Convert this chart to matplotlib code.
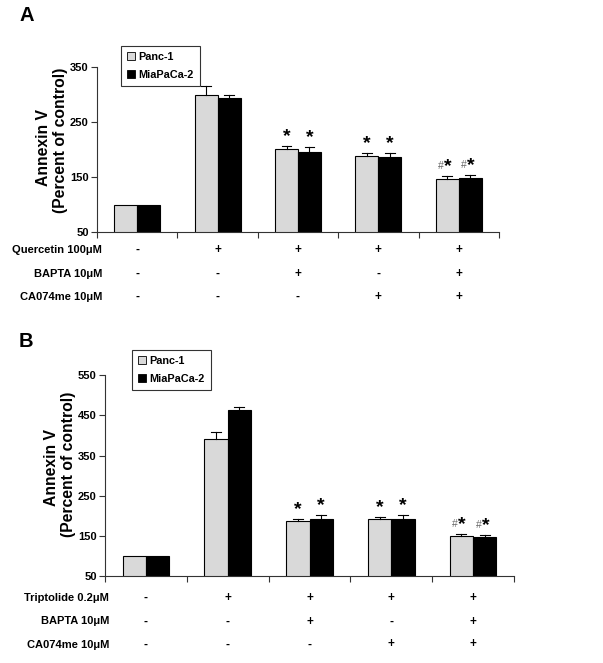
import matplotlib
matplotlib.use("Agg")
import matplotlib.pyplot as plt
import matplotlib.transforms as mtransforms
from matplotlib.patches import Patch
import numpy as np

plt.rcParams['font.family'] = ['Liberation Sans', 'DejaVu Sans']
plt.rcParams['font.weight'] = 'bold'

series_names = ["Panc-1", "MiaPaCa-2"]

# Panel A (Quercetin)
a_panc = [100, 299, 201, 188, 146]
a_panc_err = [0, 16, 6, 6, 6]
a_mia = [100, 294, 196, 186, 149]
a_mia_err = [0, 6, 8, 8, 5]
a_marks = ["", "", "*", "*", "#*"]
a_row_labels = ["Quercetin 100μM", "BAPTA 10μM", "CA074me 10μM"]
a_signs = [["-", "+", "+", "+", "+"],
           ["-", "-", "+", "-", "+"],
           ["-", "-", "-", "+", "+"]]
a_yticks = [50, 150, 250, 350]

# Panel B (Triptolide)
b_panc = [99, 392, 188, 192, 149]
b_panc_err = [0, 16, 5, 6, 6]
b_mia = [99, 463, 193, 193, 147]
b_mia_err = [0, 8, 10, 10, 4]
b_marks = ["", "", "*", "*", "#*"]
b_row_labels = ["Triptolide 0.2μM", "BAPTA 10μM", "CA074me 10μM"]
b_signs = [["-", "+", "+", "+", "+"],
           ["-", "-", "+", "-", "+"],
           ["-", "-", "-", "+", "+"]]
b_yticks = [50, 150, 250, 350, 450, 550]

W, H = 603, 663
fig = plt.figure(figsize=(W / 100, H / 100), dpi=100)

def fx(px):
    return px / W

def fy(py):
    return 1 - py / H

def panel(left, right, top, bottom, panc, panc_err, mia, mia_err, marks,
          row_labels, signs, yticks, row_y, label_right, legend_box, letter, letter_pos,
          ylab_x, ylab_y):
    ax = fig.add_axes([fx(left), fy(bottom), fx(right - left), (bottom - top) / H])
    n = len(panc)
    centers = np.arange(n) + 0.5
    bw = 0.286
    ax.bar(centers - bw / 2, panc, width=bw, color='#d9d9d9', edgecolor='black', linewidth=0.8,
           zorder=2, label=series_names[0])
    ax.bar(centers + bw / 2, mia, width=bw, color='black', edgecolor='black', linewidth=0.8,
           zorder=2, label=series_names[1])
    for xs, vals, errs in [(centers - bw / 2, panc, panc_err), (centers + bw / 2, mia, mia_err)]:
        for x, v, e in zip(xs, vals, errs):
            if e > 0:
                ax.plot([x, x], [v, v + e], color='black', lw=0.8, zorder=3)
                ax.plot([x - 0.06, x + 0.06], [v + e, v + e], color='black', lw=0.8, zorder=3)
    ymin, ymax = yticks[0], yticks[-1]
    span = ymax - ymin
    for i, m in enumerate(marks):
        if not m:
            continue
        for xs, vals, errs in [(centers[i] - bw / 2, panc[i], panc_err[i]), (centers[i] + bw / 2, mia[i], mia_err[i])]:
            ytop = vals + errs + span * 0.005
            if m == "#*":
                t_star = mtransforms.offset_copy(ax.transData, fig=fig, x=-2.2, y=0, units='points')
                ax.text(xs, ytop, "*", ha='left', va='bottom', fontsize=14, fontweight='bold',
                        transform=t_star)
                t_hash = mtransforms.offset_copy(ax.transData, fig=fig, x=-2.4, y=3, units='points')
                ax.text(xs, ytop, "#", ha='right', va='bottom', fontsize=7.5, fontweight='normal',
                        color='#666666', transform=t_hash)
            else:
                ax.text(xs, ytop, "*", ha='center', va='bottom', fontsize=14, fontweight='bold')
    ax.set_xlim(0, n)
    ax.set_ylim(ymin, ymax)
    ax.set_yticks(yticks)
    ax.set_yticklabels([str(t) for t in yticks], fontsize=8, fontweight='bold')
    ax.set_xticks(np.arange(n + 1))
    ax.set_xticklabels([])
    ax.tick_params(axis='both', direction='out', length=4, width=0.8, color='#333333')
    ax.tick_params(axis='y', pad=2)
    for s in ['top', 'right']:
        ax.spines[s].set_visible(False)
    for s in ['left', 'bottom']:
        ax.spines[s].set_linewidth(0.8)
        ax.spines[s].set_color('#333333')
    # y label
    fig.text(fx(ylab_x[0]), fy(ylab_y[0]), "Annexin V", rotation=90, ha='center', va='center',
             fontsize=11.3, fontweight='bold')
    fig.text(fx(ylab_x[1]), fy(ylab_y[1]), "(Percent of control)", rotation=90, ha='center',
             va='center', fontsize=11.3, fontweight='bold')
    # sign table
    trans = mtransforms.blended_transform_factory(ax.transData, fig.transFigure)
    for r, (lab, row) in enumerate(zip(row_labels, signs)):
        fig.text(fx(label_right), fy(row_y[r]), lab, ha='right', va='center', fontsize=8, fontweight='bold')
        for i, s in enumerate(row):
            ax.text(centers[i], fy(row_y[r]), s, transform=trans, ha='center', va='center',
                    fontsize=8.5, fontweight='bold', clip_on=False)
    # legend
    handles = [Patch(facecolor='#d9d9d9', edgecolor='black', linewidth=0.6),
               Patch(facecolor='black', edgecolor='black', linewidth=0.6)]
    lx0, ly0 = legend_box
    leg = fig.legend(handles, series_names, loc='upper left',
                     bbox_to_anchor=(fx(lx0), fy(ly0)), bbox_transform=fig.transFigure,
                     fontsize=7.8, frameon=True, fancybox=False, edgecolor='black',
                     handlelength=0.75, handleheight=0.75, handletextpad=0.3,
                     borderpad=0.55, labelspacing=0.75, borderaxespad=0)
    leg.get_frame().set_linewidth(0.8)
    for t in leg.get_texts():
        t.set_fontweight('bold')
    fig.text(fx(letter_pos[0]), fy(letter_pos[1]), letter, ha='left', va='top', fontsize=14.5,
             fontweight='bold')
    return ax

panel(97, 499, 67, 232, a_panc, a_panc_err, a_mia, a_mia_err, a_marks,
      a_row_labels, a_signs, a_yticks, [250, 274, 297], 102, (121, 46), "A", (19, 6),
      (43, 60), (148, 140))
panel(105, 514, 375.3, 576, b_panc, b_panc_err, b_mia, b_mia_err, b_marks,
      b_row_labels, b_signs, b_yticks, [598, 621.5, 644.5], 109, (132, 350), "B", (19, 332),
      (51, 68), (468, 464.5))

fig.savefig("out.png", dpi=100, facecolor='white')
